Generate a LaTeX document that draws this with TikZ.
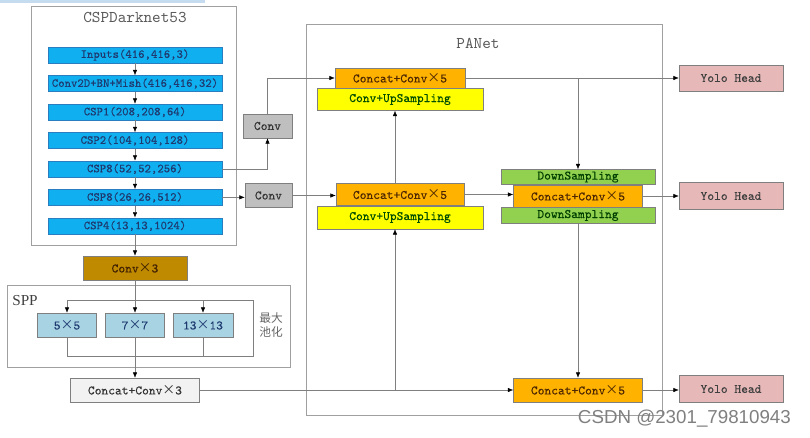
\documentclass[tikz,border=0pt]{standalone}
\usepackage{fontspec}
\setmainfont{Liberation Serif}
\setsansfont{Liberation Sans}
\newfontfamily\boxfont[FakeBold=0.3]{lmmono10-regular.otf}
\newfontfamily\titlefont{lmmono10-regular.otf}
\newfontfamily\cjkfont{Noto Sans CJK SC}
\newcommand{\tms}{{\cjkfont ×}}
\usetikzlibrary{positioning,arrows.meta,calc}
\definecolor{stripblue}{HTML}{C5DCF0}
\definecolor{framegray}{HTML}{A0A0A0}
\definecolor{linegray}{HTML}{7F7F7F}
\definecolor{cspblue}{HTML}{10B0F0}
\definecolor{cspedge}{HTML}{2A7DBE}
\definecolor{textblue}{HTML}{1F3A70}
\definecolor{goldbox}{HTML}{BF8A00}
\definecolor{poolblue}{HTML}{A8D3E3}
\definecolor{concatgray}{HTML}{F2F2F2}
\definecolor{convgray}{HTML}{BFBFBF}
\definecolor{orangebox}{HTML}{FFB300}
\definecolor{yellowbox}{HTML}{FFFF00}
\definecolor{greenbox}{HTML}{92D050}
\definecolor{yolopink}{HTML}{E6B8B7}
\tikzset{
  ynarr/.style={-{Latex[length=1.6mm,width=1.3mm,color=black]},draw=linegray,thin},
  ynline/.style={draw=linegray,thin},
  frame/.style={draw=framegray,thin},
  title/.style={font=\titlefont\fontsize{14}{14}\selectfont,text=black!65},
  box/.style={draw=linegray,inner sep=0pt,align=center,text=black!80,
              font=\boxfont\fontsize{11}{11}\selectfont},
  bbox/.style={box,draw=cspedge,fill=cspblue,minimum width=5.22cm,minimum height=0.48cm,
               text=textblue,font=\boxfont\fontsize{10.4}{10}\selectfont},
  pool/.style={box,fill=poolblue,minimum width=1.77cm,minimum height=0.72cm,text=textblue},
  convbox/.style={box,fill=convgray,minimum height=0.72cm},
  catbox/.style={box,fill=orangebox,minimum width=3.87cm,text=black!70!orange},
  upbox/.style={box,fill=yellowbox,minimum width=4.98cm,text=black!70!green},
  dsbox/.style={box,fill=greenbox,minimum width=4.62cm,text=black!75!green},
  yolo/.style={box,fill=yolopink,minimum width=3.12cm,text=black!75}
}
\begin{document}
\begin{tikzpicture}[x=0.03cm,y=-0.03cm]
\useasboundingbox (0,0) rectangle (810,437);
\fill[stripblue] (0,0) rectangle (205,3);

% backbone
\draw[frame] (31,6) rectangle (236,245);
\node[title] (tcsp) at (135,17) {CSPDarknet53};
\node[bbox] (inp) at (135,55) {Inputs(416,416,3)};
\node[bbox, below=0.36cm of inp] (c2d) {Conv2D+BN+Mish(416,416,32)};
\node[bbox, below=0.36cm of c2d] (csp1) {CSP1(208,208,64)};
\node[bbox, below=0.36cm of csp1] (csp2) {CSP2(104,104,128)};
\node[bbox, below=0.36cm of csp2] (csp8a) {CSP8(52,52,256)};
\node[bbox, below=0.36cm of csp8a] (csp8b) {CSP8(26,26,512)};
\node[bbox, below=0.36cm of csp8b] (csp4) {CSP4(13,13,1024)};
\foreach \a/\b in {inp/c2d,c2d/csp1,csp1/csp2,csp2/csp8a,csp8a/csp8b,csp8b/csp4}
  \draw[ynarr] (\a) -- (\b);

% SPP
\node[box, fill=goldbox, minimum width=3.12cm, minimum height=0.72cm, text=black!75!orange] (conv3) at (135,268) {Conv\tms3};
\draw[frame] (7,285) rectangle (290,367);
\node[font=\fontsize{13}{14}\selectfont, text=black!75] (tspp) at (25,301) {SPP};
\coordinate (sppt) at (135,300);
\coordinate (sppb) at (135,356);
\coordinate (sppr) at (253,356);
\node[pool] (p5) at (67,325) {5\tms5};
\node[pool] (p7) at (135,325) {7\tms7};
\node[pool, minimum width=1.8cm] (p13) at (203,325) {13\tms13};
\draw[ynline] (p5.north |- sppt) -| (sppr) -| (p5.south);
\draw[ynarr] (p5.north |- sppt) -- (p5.north);
\draw[ynarr] (p13.north |- sppt) -- (p13.north);
\draw[ynline] (p13.south) -- (p13.south |- sppb);
\node[font=\cjkfont\fontsize{10}{12.5}\selectfont, text=black!60, align=center] (tmax) at (271,325) {最大\\池化};
\node[box, fill=concatgray, minimum width=3.87cm, minimum height=0.72cm] (concat3) at (135,390) {Concat+Conv\tms3};
\draw[ynarr] (csp4) -- (conv3);
\draw[ynarr] (conv3) -- (p7);
\draw[ynarr] (p7) -- (concat3);

% PANet
\draw[frame] (306,24) rectangle (662,415);
\node[title] (tpan) at (478,43) {PANet};
\node[catbox, minimum width=3.9cm, minimum height=0.6cm] (cc1) at (400,78) {Concat+Conv\tms5};
\node[upbox, minimum height=0.66cm, below=0pt of cc1] (up1) {Conv+UpSampling};
\node[catbox, minimum width=3.84cm, minimum height=0.66cm] (cc2) at (400,194.5) {Concat+Conv\tms5};
\node[upbox, minimum height=0.69cm, below=0pt of cc2] (up2) {Conv+UpSampling};
\node[convbox, minimum width=1.47cm] (convA) at (267.5,126) {Conv};
\node[convbox, minimum width=1.41cm] (convB) at (268.5,195.5) {Conv};
\node[catbox, minimum height=0.66cm] (cc3) at (578,196) {Concat+Conv\tms5};
\node[dsbox, minimum height=0.45cm, above=0pt of cc3] (ds1) {DownSampling};
\node[dsbox, minimum height=0.48cm, below=0pt of cc3] (ds2) {DownSampling};
\node[catbox, minimum height=0.72cm] (cc4) at (578,390) {Concat+Conv\tms5};
\node[yolo, minimum height=0.78cm] (yolo1) at (731,78) {Yolo Head};
\node[yolo, minimum height=0.81cm] (yolo2) at (731,196) {Yolo Head};
\node[yolo, minimum height=0.81cm] (yolo3) at (731,389) {Yolo Head};
\coordinate (jtop) at (578,78);
\coordinate (jbot) at (395,390);

\draw[ynarr] (csp8a.east) -| (convA.south);
\draw[ynarr] (convA.north) |- (cc1.west);
\draw[ynarr] (csp8b.east) -- (csp8b.east -| convB.west);
\draw[ynarr] (convB.east) -- (convB.east -| cc2.west);
\draw[ynarr] (jbot |- cc2.north) -- (jbot |- up1.south);
\draw[ynarr] (cc2.east) -- (cc2.east -| cc3.west);
\draw[ynarr] (cc1.east) -- (yolo1.west);
\draw[ynarr] (jtop) -- (ds1.north);
\draw[ynarr] (cc3.east) -- (yolo2.west);
\draw[ynarr] (ds2.south) -- (cc4.north);
\draw[ynarr] (concat3.east) -- (cc4.west);
\draw[ynarr] (jbot) -- (jbot |- up2.south);
\draw[ynarr] (cc4.east) -- (cc4.east -| yolo3.west);

\node[font=\sffamily\fontsize{16}{18}\selectfont, text=black!50, anchor=base east] (mark) at (795,423) {CSDN @2301\_79810943};
\end{tikzpicture}
\end{document}
